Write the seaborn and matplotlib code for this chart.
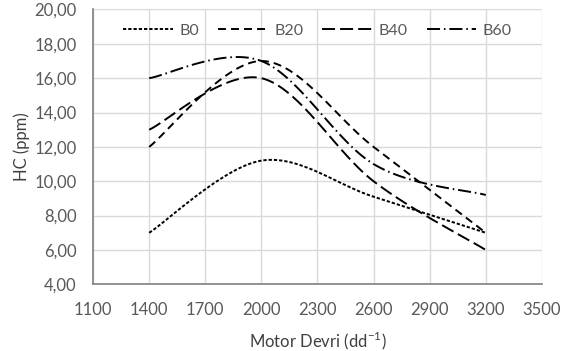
import numpy as np
import pandas as pd
import matplotlib
matplotlib.use("Agg")
import matplotlib.pyplot as plt
from matplotlib.ticker import FuncFormatter
import seaborn as sns

# Data
rpm = [1400, 2000, 2600, 3200]
b0 = [7.0, 11.2, 9.1, 7.0]
b20 = [12.0, 17.0, 12.0, 7.0]
b40 = [13.0, 16.0, 10.0, 6.0]
b60 = [16.0, 17.0, 11.0, 9.2]
series = ["B0", "B20", "B40", "B60"]
dashes = [(1.7, 1.0), (4.1, 2.6), (6.7, 2.6), (6.7, 2.0, 0.8, 2.0)]


# Excel-like smoothed line (bezier through points)
def smooth(xs, ys, n=40):
    p = np.column_stack([xs, ys]).astype(float)
    p = np.vstack([p[0], p, p[-1]])
    out = []
    for i in range(1, len(p) - 2):
        p0, p1, p2, p3 = p[i - 1], p[i], p[i + 1], p[i + 2]
        c1 = p1 + (p2 - p0) / 6
        c2 = p2 - (p3 - p1) / 6
        t = np.linspace(0, 1, n)[:, None]
        seg = (1 - t) ** 3 * p1 + 3 * (1 - t) ** 2 * t * c1 + 3 * (1 - t) * t ** 2 * c2 + t ** 3 * p2
        out.append(seg if i == 1 else seg[1:])
    out = np.vstack(out)
    return out[:, 0], out[:, 1]


sns.set_style("white")
plt.rcParams["font.family"] = ["Lato", "DejaVu Sans"]

fig = plt.figure(figsize=(5.71, 3.51), dpi=100)
ax = fig.add_axes([0.163, 0.19, 0.786, 0.783])

for name, vals, d in zip(series, [b0, b20, b40, b60], dashes):
    sx, sy = smooth(rpm, vals)
    df = pd.DataFrame({"x": sx, "y": sy})
    sns.lineplot(data=df, x="x", y="y", sort=False, estimator=None, ax=ax,
                 color="black", lw=1.4, dashes=False, label=name)
    ax.lines[-1].set_dashes(d)

ax.set_xlim(1100, 3500)
ax.set_ylim(4, 20)
ax.set_xticks(range(1100, 3501, 300))
ax.set_yticks(range(4, 21, 2))
ax.yaxis.set_major_formatter(FuncFormatter(lambda v, p: f"{v:.2f}".replace(".", ",")))
ax.grid(True, color="#d9d9d9", lw=1)
ax.tick_params(length=0, labelsize=12, labelcolor="#595959")
ax.tick_params(axis="x", pad=13)
ax.tick_params(axis="y", pad=12)
for s in ["top", "right"]:
    ax.spines[s].set_visible(False)
for s in ["left", "bottom"]:
    ax.spines[s].set_color("#808080")
    ax.spines[s].set_linewidth(1.2)

ax.set_xlabel("Motor Devri (dd$^{\\mathregular{-1}}$)", fontsize=12, color="#404040", labelpad=8)
ax.set_ylabel("HC (ppm)", fontsize=12, color="#404040", labelpad=3)

leg = ax.legend(loc="center", bbox_to_anchor=(0.5, 0.922), ncol=4, frameon=False,
                fontsize=11.5, handlelength=3.1, columnspacing=1.2, handletextpad=0.4)
for t in leg.get_texts():
    t.set_color("#595959")

fig.savefig("out.png", dpi=100)
